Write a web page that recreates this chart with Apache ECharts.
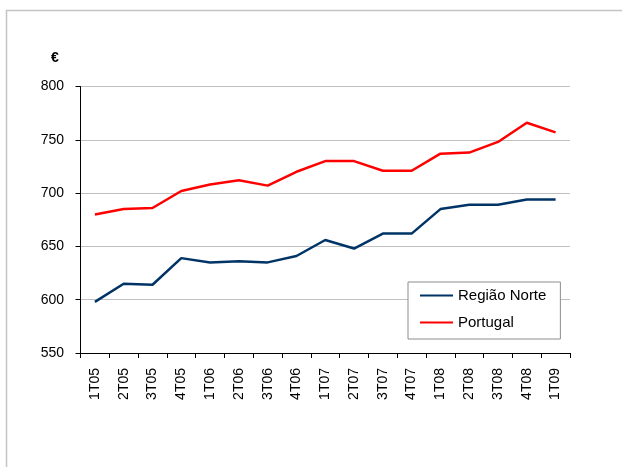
<!DOCTYPE html>
<html>
<head>
<meta charset="utf-8">
<script src="https://cdn.jsdelivr.net/npm/echarts@6/dist/echarts.min.js"></script>
<style>
  html, body { margin: 0; padding: 0; background: #fff; }
  #chart { width: 622px; height: 467px; }
</style>
</head>
<body>
<div id="chart"></div>
<script>
// trimestres
const quarters = ['1T05', '2T05', '3T05', '4T05', '1T06', '2T06', '3T06', '4T06',
  '1T07', '2T07', '3T07', '4T07', '1T08', '2T08', '3T08', '4T08', '1T09'];
const regiaoNorte = [598, 615, 614, 639, 635, 636, 635, 641, 656, 648, 662, 662, 685, 689, 689, 694, 694];
const portugal = [680, 685, 686, 702, 708, 712, 707, 720, 730, 730, 721, 721, 737, 738, 748, 766, 757];
const yTicks = { min: 550, max: 800, step: 50 };

const chart = echarts.init(document.getElementById('chart'));
const font = '"Liberation Sans", Arial, sans-serif';

chart.setOption({
  animation: false,
  textStyle: { fontFamily: font },
  grid: { left: 80.5, right: 52, top: 86.5, bottom: 114 },
  graphic: [
    { type: 'polyline', shape: { points: [[6.5, 470], [6.5, 10.5], [625, 10.5]] },
      style: { fill: 'none', stroke: '#c4c4c4', lineWidth: 1.5 } },
    { type: 'text', left: 51, top: 51,
      style: { text: '€', font: 'bold 14px ' + font, fill: '#000' } }
  ],
  legend: {
    orient: 'vertical',
    left: 408, top: 282,
    padding: [6, 14, 9, 12],
    itemGap: 12,
    itemWidth: 33, itemHeight: 2,
    icon: 'rect',
    borderColor: '#8c8c8c', borderWidth: 1,
    backgroundColor: '#fff',
    textStyle: { fontSize: 15, color: '#000', fontFamily: font },
    data: ['Região Norte', 'Portugal']
  },
  xAxis: {
    type: 'category',
    data: quarters,
    boundaryGap: true,
    axisLine: { lineStyle: { color: '#000', width: 1 } },
    axisTick: { show: true, length: 5, alignWithLabel: false, lineStyle: { color: '#000' } },
    axisLabel: { rotate: 90, fontSize: 14, color: '#000', margin: 15, interval: 0 },
    splitLine: { show: false }
  },
  yAxis: {
    type: 'value',
    min: yTicks.min, max: yTicks.max, interval: yTicks.step,
    axisLine: { show: true, lineStyle: { color: '#000', width: 1 } },
    axisTick: { show: true, length: 5, lineStyle: { color: '#000' } },
    axisLabel: { fontSize: 14, color: '#000', margin: 16.5 },
    splitLine: { lineStyle: { color: '#c0c0c0', width: 1 } }
  },
  series: [
    {
      name: 'Região Norte', type: 'line', data: regiaoNorte,
      symbol: 'none',
      lineStyle: { color: '#003366', width: 2.5 },
      itemStyle: { color: '#003366' }
    },
    {
      name: 'Portugal', type: 'line', data: portugal,
      symbol: 'none',
      lineStyle: { color: '#ff0000', width: 2.5 },
      itemStyle: { color: '#ff0000' }
    }
  ]
});
</script>
</body>
</html>
